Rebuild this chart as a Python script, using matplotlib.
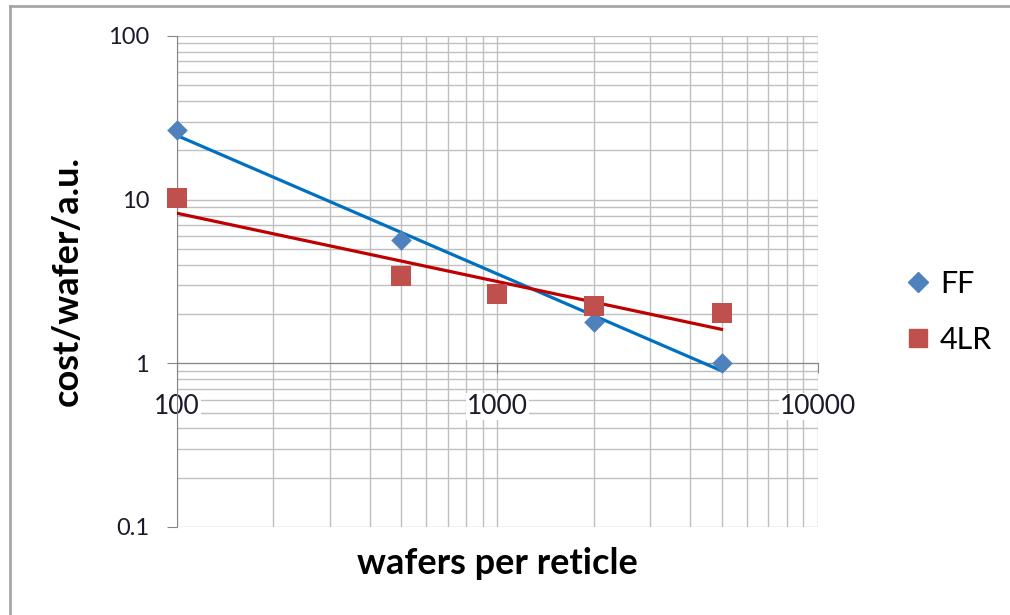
import matplotlib.pyplot as plt
import numpy as np
from matplotlib.lines import Line2D

# wafers per reticle vs cost per wafer (arbitrary units)
ff_x = [100, 500, 2000, 5000]
ff_y = [26.7, 5.7, 1.8, 1.0]
lr_x = [100, 500, 1000, 2000, 5000]
lr_y = [10.2, 3.4, 2.65, 2.25, 2.03]

plt.rcParams['font.family'] = ['Lato', 'DejaVu Sans']

fig = plt.figure(figsize=(10.1, 6.15), dpi=100)
ax = fig.add_axes([0.1752, 0.1431, 0.6347, 0.7984])

# power-law trendlines (straight lines in log-log space)
def _powerfit(x, y):
	k, b = np.polyfit(np.log10(x), np.log10(y), 1)
	xs = np.array([min(x), max(x)], dtype=float)
	return xs, 10 ** b * xs ** k

tx, ty = _powerfit(ff_x, ff_y)
ax.plot(tx, ty, color='#0070C0', lw=2.3, zorder=3)
tx, ty = _powerfit(lr_x, lr_y)
ax.plot(tx, ty, color='#C00000', lw=2.3, zorder=3)

ax.scatter(ff_x, ff_y, marker='D', s=110, color='#4F81BD', zorder=4, linewidths=0, clip_on=False)
ax.scatter(lr_x, lr_y, marker='s', s=190, color='#C0504D', zorder=4, linewidths=0, clip_on=False)

ax.set_xscale('log')
ax.set_yscale('log')
ax.set_xlim(100, 10000)
ax.set_ylim(0.1, 100)

# log gridlines drawn as plain lines so the tick labels can sit on top of them
for e in range(2, 4):
	for m in range(1, 10):
		ax.axvline(m * 10 ** e, color='#BFBFBF', lw=1.0, zorder=1)
ax.axvline(10000, color='#BFBFBF', lw=1.0, zorder=1)
for e in range(-1, 2):
	for m in range(1, 10):
		ax.axhline(m * 10 ** e, color='#BFBFBF', lw=1.0, zorder=1)
ax.axhline(100, color='#BFBFBF', lw=1.0, zorder=1)

for s in ['top', 'right']:
	ax.spines[s].set_visible(False)
ax.spines['bottom'].set_position(('data', 1))
ax.spines['bottom'].set_color('#868686')
ax.spines['left'].set_color('#868686')

ax.set_xticks([100, 1000, 10000])
ax.set_xticklabels(['100', '1000', '10000'])
ax.set_yticks([0.1, 1, 10, 100])
ax.set_yticklabels(['0.1', '1', '10', '100'])
ax.minorticks_off()
ax.tick_params(axis='x', which='major', direction='out', length=7, color='#868686',
	pad=15, labelsize=19, labelcolor='#1a1a2a')
ax.tick_params(axis='y', which='major', direction='out', length=7, color='#868686',
	pad=13, labelsize=17, labelcolor='#1a1a2a')
for t in ax.get_xticklabels():
	t.set_bbox(dict(facecolor='white', edgecolor='none', pad=1))

ax.set_xlabel('wafers per reticle', fontsize=26, fontweight='bold', labelpad=0)
ax.xaxis.set_label_coords(0.5, -0.04)
ax.set_ylabel('cost/wafer/a.u.', fontsize=26, fontweight='bold')
ax.yaxis.set_label_coords(-0.145, 0.5)

handles = [
	Line2D([], [], marker='D', ls='', color='#4F81BD', markersize=10, label='FF'),
	Line2D([], [], marker='s', ls='', color='#C0504D', markersize=13, label='4LR'),
]
fig.legend(handles=handles, loc='center left', bbox_to_anchor=(0.867, 0.493),
	frameon=False, fontsize=22, handletextpad=0.2, labelspacing=0.9, handlelength=1.0)

# outer chart border
fig.add_artist(Line2D([0.0099, 0.0099], [0, 0.9902], transform=fig.transFigure, color='#A6A6A6', lw=2))
fig.add_artist(Line2D([0.0099, 1], [0.9902, 0.9902], transform=fig.transFigure, color='#A6A6A6', lw=2))

fig.savefig('out.png', dpi=100)
